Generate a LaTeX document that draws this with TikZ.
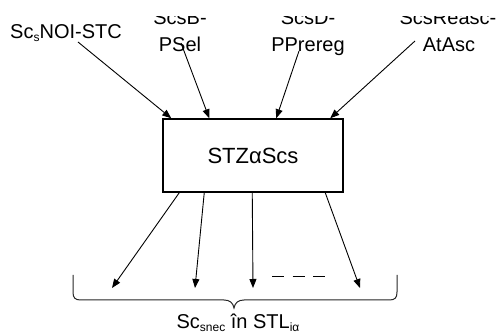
\documentclass[tikz,border=0pt]{standalone}
\usepackage{fontspec}
\setmainfont{Liberation Sans}
\usetikzlibrary{arrows.meta,calc}
\newcommand{\mysub}[1]{{\fontsize{12}{12}\selectfont\raisebox{-3pt}{#1}}}
\begin{document}
\begin{tikzpicture}[x=1pt,y=-1pt,
  lbl/.style={inner sep=0pt,anchor=base,font=\fontsize{20}{24}\selectfont},
  conn/.style={line width=0.9pt,-{Triangle[length=9pt,width=7pt]}},
  brace/.style={line width=1pt,draw=black!85}]
\useasboundingbox (0,0) rectangle (499,334);
\begin{scope}
\clip (0,17) rectangle (499,334);
\node[lbl] (n1) at (66,39) {Sc\mysub{s}NOI-STC};
\node[lbl] (b1) at (180,25) {ScsB-};
\node[lbl] (b2) at (180,52) {PSel};
\node[lbl] (d1) at (308,25) {ScsD-};
\node[lbl] (d2) at (308,52) {PPrereg};
\node[lbl] (r1) at (448,25) {ScsReasc-};
\node[lbl] (r2) at (449,52) {AtAsc};
\end{scope}
\node[draw,line width=1.5pt,minimum width=180pt,minimum height=73pt,inner sep=0pt,
  font=\fontsize{22}{26}\selectfont] (box) at (253,155.5) {STZαScs};
% top connectors
\coordinate (s1) at (78,42);
\coordinate (s2) at (181,43);
\coordinate (s3) at (299,51);
\coordinate (s4) at (415,41);
\coordinate (t1) at ($(box.north west)+(9,0)$);
\coordinate (t2) at ($(box.north west)+(47,0)$);
\coordinate (t3) at ($(box.north west)+(114,0)$);
\coordinate (t4) at ($(box.north west)+(168,0)$);
\draw[conn] (s1) -- (t1);
\draw[conn] (s2) -- (t2);
\draw[conn] (s3) -- (t3);
\draw[conn] (s4) -- (t4);
% bottom connectors
\coordinate (u1) at ($(box.south west)+(17,0)$);
\coordinate (u2) at ($(box.south west)+(42,0)$);
\coordinate (u3) at ($(box.south west)+(90,0)$);
\coordinate (u4) at ($(box.south west)+(163,0)$);
\coordinate (e1) at (112,288);
\coordinate (e2) at (195,288);
\coordinate (e3) at (253,288);
\coordinate (e4) at (360,288);
\draw[conn] (u1) -- (e1);
\draw[conn] (u2) -- (e2);
\draw[conn] (u3) -- (e3);
\draw[conn] (u4) -- (e4);
% dashes
\coordinate (da) at (272,276);
\coordinate (db) at (326,276);
\draw[line width=0.9pt,dash pattern=on 12pt off 8.5pt] (da) -- (db);
% brace
\draw[brace] (73,275) -- (73,292) .. controls (73,298) and (75,300) .. (81,300)
  -- (224,300) .. controls (230,300) and (233,303) .. (234,308)
  .. controls (235,303) and (238,300) .. (244,300)
  -- (389,300) .. controls (395,300) and (397,298) .. (397,292) -- (397,275);
\node[lbl] (lab) at (238,329) {Sc\mysub{snec} în STL\mysub{iα}};
\end{tikzpicture}
\end{document}
